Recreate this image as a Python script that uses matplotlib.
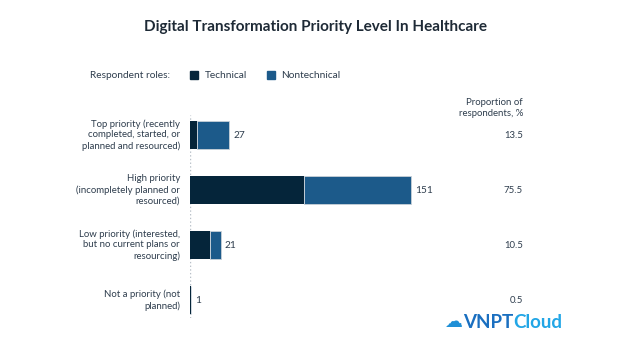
import matplotlib
matplotlib.use("Agg")
import matplotlib.pyplot as plt
from matplotlib import transforms

plt.rcParams['font.family'] = ['Lato', 'DejaVu Sans']

categories = [
    "Top priority (recently\ncompleted, started, or\nplanned and resourced)",
    "High priority\n(incompletely planned or\nresourced)",
    "Low priority (interested,\nbut no current plans or\nresourcing)",
    "Not a priority (not\nplanned)",
]
technical = [5, 78, 14, 1]
nontechnical = [22, 73, 7, 0]
totals = [27, 151, 21, 1]
proportions = ["13.5", "75.5", "10.5", "0.5"]

TECH = "#05253a"
NONTECH = "#1c5a8a"
TEXT = "#2e3d4d"

fig = plt.figure(figsize=(6.32, 3.5), dpi=100)
W, H = 632, 350
ax = fig.add_axes([190 / W, 32 / H, 234 / W, 203 / H])

y = list(range(len(categories)))
ax.barh(y, technical, height=0.5, color=TECH, linewidth=0)
ax.barh(y, nontechnical, left=technical, height=0.5, color=NONTECH,
        edgecolor="#c8d0d8", linewidth=0.6)
ax.set_xlim(0, 160)
ax.set_ylim(3.327, -0.364)
ax.axvline(0, color="#b8c0c8", linestyle=":", linewidth=1.0, zorder=0)
for s in ax.spines.values():
    s.set_visible(False)
ax.set_xticks([])
ax.set_yticks([])

off = transforms.offset_copy(ax.transData, fig=fig, x=4, y=0, units="dots")
for yi, t in zip(y, totals):
    ax.text(t, yi, str(t), transform=off, ha="left", va="center",
            fontsize=7.3, color=TEXT)

lbl = transforms.offset_copy(ax.transData, fig=fig, x=-10, y=0, units="dots")
for yi, c in zip(y, categories):
    ax.text(0, yi, c, transform=lbl, ha="right", va="center",
            fontsize=6.9, color=TEXT, linespacing=1.25)

prop = transforms.blended_transform_factory(fig.transFigure, ax.transData)
for yi, p in zip(y, proportions):
    ax.text(523 / W, yi, p, transform=prop, ha="right", va="center",
            fontsize=6.9, color=TEXT)
fig.text(523 / W, 1 - 108 / H, "Proportion of\nrespondents, %", ha="right",
         va="center", fontsize=6.9, color=TEXT, linespacing=1.25)

fig.text(316 / W, 1 - 27 / H, "Digital Transformation Priority Level In Healthcare",
         ha="center", va="center", fontsize=11, fontweight="bold", color="#1e2a36")

# legend row
fig.text(90 / W, 1 - 75 / H, "Respondent roles:", ha="left", va="center",
         fontsize=7.3, color=TEXT)
fig.patches.append(plt.Rectangle((190 / W, 1 - 79 / H), 8 / W, 8 / H,
                                 transform=fig.transFigure, color=TECH))
fig.text(205 / W, 1 - 75 / H, "Technical", ha="left", va="center",
         fontsize=7.3, color=TEXT)
fig.patches.append(plt.Rectangle((267 / W, 1 - 79 / H), 8 / W, 8 / H,
                                 transform=fig.transFigure, color=NONTECH))
fig.text(281 / W, 1 - 75 / H, "Nontechnical", ha="left", va="center",
         fontsize=7.3, color=TEXT)

# logo
fig.text(444 / W, 1 - 322 / H, "\u2601", ha="left", va="center", fontsize=13,
         color="#1f8fd6", family="DejaVu Sans")
vnpt = fig.text(463 / W, 1 - 322 / H, "VNPT", ha="left", va="center", fontsize=13.5,
                fontweight="bold", color="#1a6fc0")
fig.canvas.draw()
bb = vnpt.get_window_extent()
fig.text(bb.x1 / W, 1 - 322 / H, "Cloud", ha="left", va="center", fontsize=13.5,
         fontweight="bold", color="#22a6e6")

fig.savefig("out.png", dpi=100, facecolor="white")
